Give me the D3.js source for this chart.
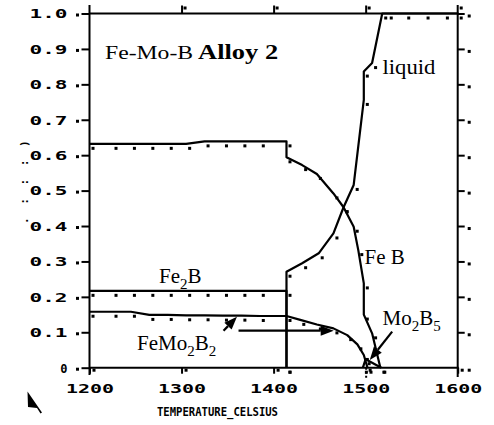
<!DOCTYPE html>
<html>
<head>
<meta charset="utf-8">
<script src="https://cdn.jsdelivr.net/npm/d3@7"></script>
<style>
  body { margin: 0; background: #fff; }
  svg { display: block; }
</style>
</head>
<body>
<svg id="chart" width="494" height="425"></svg>
<script>
// phase fractions, [temperature, fraction]
const liquid = [[1414, 0], [1414, 0.271], [1431, 0.295], [1449, 0.323], [1465, 0.379], [1476, 0.453],
    [1487, 0.516], [1498, 0.756], [1498, 0.836], [1507, 0.86], [1518, 1.0], [1524, 1.0], [1543, 1.0],
    [1564, 1.0], [1585, 1.0], [1600, 1.0]]
const feB = [[1200, 0.632], [1225, 0.632], [1245, 0.632], [1265, 0.632], [1285, 0.632], [1305, 0.632],
    [1325, 0.639], [1345, 0.639], [1365, 0.639], [1385, 0.639], [1414, 0.639], [1414, 0.594],
    [1431, 0.572], [1447, 0.547], [1465, 0.492], [1476, 0.453], [1487, 0.398], [1492, 0.332],
    [1498, 0.238], [1498, 0.15], [1507, 0.097], [1516, 0]]
const fe2B = [[1200, 0.217], [1225, 0.217], [1245, 0.217], [1265, 0.217], [1285, 0.217], [1305, 0.217],
    [1325, 0.217], [1345, 0.217], [1365, 0.217], [1385, 0.217], [1414, 0.217], [1414, 0]]
const feMo2B2 = [[1200, 0.158], [1225, 0.158], [1245, 0.158], [1265, 0.149], [1285, 0.149], [1305, 0.148],
    [1325, 0.148], [1345, 0.147], [1365, 0.147], [1385, 0.146], [1414, 0.146], [1429, 0.135],
    [1447, 0.122], [1465, 0.111], [1480, 0.092], [1491, 0.066], [1498, 0.036], [1502, 0]]
const mo2B5 = [[1497, 0], [1500, 0.024], [1517, 0]]

const xTicks = [1200, 1300, 1400, 1500, 1600]
const xTickLabels = ["1200", "1300", "1400", "1500", "1600"]
const yTicks = [0, 0.1, 0.2, 0.3, 0.4, 0.5, 0.6, 0.7, 0.8, 0.9, 1.0]
const yTickLabels = ["0", "0.1", "0.2", "0.3", "0.4", "0.5", "0.6", "0.7", "0.8", "0.9", "1.0"]

const svg = d3.select("#chart")
const x = d3.scaleLinear().domain([1200, 1600]).range([89.5, 457.7])
const y = d3.scaleLinear().domain([0, 1]).range([367.7, 13.5])

const serif = "'Liberation Serif', 'Times New Roman', serif"
const mono = "'DejaVu Sans Mono', monospace"

// frame
let frame = svg.append("g").attr("stroke", "#000").attr("stroke-width", 2)
frame.append("line").attr("x1", x(1200)).attr("x2", x(1200)).attr("y1", 5).attr("y2", 375)
frame.append("line").attr("x1", x(1600)).attr("x2", x(1600)).attr("y1", 5).attr("y2", 377)
frame.append("line").attr("x1", x(1200)).attr("x2", x(1600) + 1).attr("y1", y(0)).attr("y2", y(0))
frame.append("line").attr("x1", x(1200)).attr("x2", x(1600) + 1).attr("y1", y(1)).attr("y2", y(1))

// axes
let leftAxis = svg.append("g")
    .attr("transform", `translate(${x(1200)},0)`)
    .call(d3.axisLeft(y).tickValues(yTicks).tickSize(8).tickPadding(14)
        .tickFormat((d, i) => yTickLabels[i]))
let rightAxis = svg.append("g")
    .attr("transform", `translate(${x(1600)},0)`)
    .call(d3.axisRight(y).tickValues(yTicks.slice(1)).tickSize(7).tickFormat(""))
let bottomAxis = svg.append("g")
    .attr("transform", `translate(0,${y(0)})`)
    .call(d3.axisBottom(x).tickValues(xTicks).tickSize(6).tickPadding(10)
        .tickFormat((d, i) => xTickLabels[i]))
let topAxis = svg.append("g")
    .attr("transform", `translate(0,${y(1)})`)
    .call(d3.axisTop(x).tickValues(xTicks.slice(1, 4)).tickSize(8).tickFormat(""))

for (let ax of [leftAxis, rightAxis, bottomAxis, topAxis]) {
    ax.select(".domain").remove()
    ax.selectAll("line").attr("stroke", "#000").attr("stroke-width", 2)
}
bottomAxis.selectAll(".tick").filter(d => d == 1500).select("line")
    .attr("stroke-dasharray", "2,2").attr("y2", 11)

leftAxis.selectAll("text")
    .attr("font-family", mono).attr("font-weight", "bold").attr("font-size", 12)
    .attr("fill", "#000").attr("dy", "0.36em")
    .each(function (d, i) {
        if (yTickLabels[i].length > 1) d3.select(this).attr("textLength", 38).attr("lengthAdjust", "spacingAndGlyphs")
    })
bottomAxis.selectAll("text")
    .attr("font-family", mono).attr("font-weight", "bold").attr("font-size", 13)
    .attr("fill", "#000").attr("textLength", 48).attr("lengthAdjust", "spacingAndGlyphs")

// little tick dots
let dots = svg.append("g").attr("fill", "#000")
dots.selectAll(".ld").data(yTicks).join("rect")
    .attr("x", 76).attr("y", d => y(d)).attr("width", 3).attr("height", 3)
dots.selectAll(".rd").data(yTicks).join("rect")
    .attr("x", x(1600) + 10).attr("y", d => y(d) + 1).attr("width", 3).attr("height", 3)
dots.selectAll(".td").data(xTicks.slice(1)).join("rect")
    .attr("x", d => x(d) + 2).attr("y", y(1) - 7).attr("width", 3).attr("height", 3)
dots.selectAll(".bd").data(xTicks).join("rect")
    .attr("x", d => x(d) + 3).attr("y", y(0) + 1).attr("width", 3).attr("height", 3)

// phase curves
const line = d3.line().x(d => x(d[0])).y(d => y(d[1]))
const series = [liquid, feB, fe2B, feMo2B2, mo2B5]
svg.append("g").selectAll("path").data(series).join("path")
    .attr("d", line)
    .attr("fill", "none").attr("stroke", "#000").attr("stroke-width", 2.2)
    .attr("stroke-linejoin", "round")

svg.append("g").selectAll("g").data(series).join("g")
    .selectAll("rect").data(d => d).join("rect")
    .attr("x", d => x(d[0]) + 2).attr("y", d => y(d[1]) + 3)
    .attr("width", 3).attr("height", 3).attr("fill", "#000")

// labels
function label(t, v, size) {
    return svg.append("text").attr("x", x(t)).attr("y", y(v))
        .attr("font-family", serif).attr("font-size", size).attr("fill", "#000")
}
label(1216.9, 0.871, 19).text("Fe-Mo-B").attr("textLength", 88).attr("lengthAdjust", "spacingAndGlyphs")
label(1318, 0.871, 20).text("Alloy 2").attr("font-weight", "bold")
    .attr("textLength", 80).attr("lengthAdjust", "spacingAndGlyphs")
label(1518.3, 0.829, 21).text("liquid").attr("textLength", 53).attr("lengthAdjust", "spacingAndGlyphs")
label(1498.7, 0.293, 21).text("Fe B")

function chem(t, v, parts) {
    let tx = label(t, v, 21)
    let down = false
    for (let p of parts) {
        let isSub = /\d/.test(p)
        let ts = tx.append("tspan").text(p)
        if (isSub && !down) { ts.attr("dy", 6).attr("font-size", 15); down = true }
        else if (!isSub && down) { ts.attr("dy", -6); down = false }
    }
    return tx
}
chem(1275.6, 0.239, ["Fe", "2", "B"])
chem(1251.7, 0.05, ["FeMo", "2", "B", "2"])
chem(1518.3, 0.1206, ["Mo", "2", "B", "5"])

// arrows
const arrows = [
    [[1345.6, 0.104], [1360.2, 0.144]],
    [[1361.9, 0.1045], [1465.3, 0.1045]],
    [[1528.8, 0.102], [1504.5, 0.022]]
]
let arrowG = svg.append("g")
for (let a of arrows) {
    let x1 = x(a[0][0]), y1 = y(a[0][1]), x2 = x(a[1][0]), y2 = y(a[1][1])
    let ang = Math.atan2(y2 - y1, x2 - x1)
    let hl = 13, hw = 5
    let bx = x2 - hl * Math.cos(ang), by = y2 - hl * Math.sin(ang)
    arrowG.append("line").attr("x1", x1).attr("y1", y1).attr("x2", bx).attr("y2", by)
        .attr("stroke", "#000").attr("stroke-width", 2.2)
    arrowG.append("path")
        .attr("d", `M${x2},${y2}L${bx + hw * Math.sin(ang)},${by - hw * Math.cos(ang)}L${bx - hw * Math.sin(ang)},${by + hw * Math.cos(ang)}Z`)
        .attr("fill", "#000")
}

// axis titles
svg.append("text").attr("x", 157).attr("y", 416)
    .attr("font-family", mono).attr("font-weight", "bold").attr("font-size", 12)
    .attr("textLength", 121).attr("lengthAdjust", "spacingAndGlyphs")
    .text("TEMPERATURE_CELSIUS")
svg.append("text").attr("transform", "translate(28,224) rotate(-90)")
    .attr("font-family", mono).attr("font-weight", "bold").attr("font-size", 11)
    .attr("letter-spacing", 3)
    .text(". : : : )")

// pointer glyph bottom-left
svg.append("path").attr("d", "M27.5,391.5L28,407L37,408L40.5,413.5L42,412.5L38.5,407.5Z").attr("fill", "#000")
</script>
</body>
</html>
